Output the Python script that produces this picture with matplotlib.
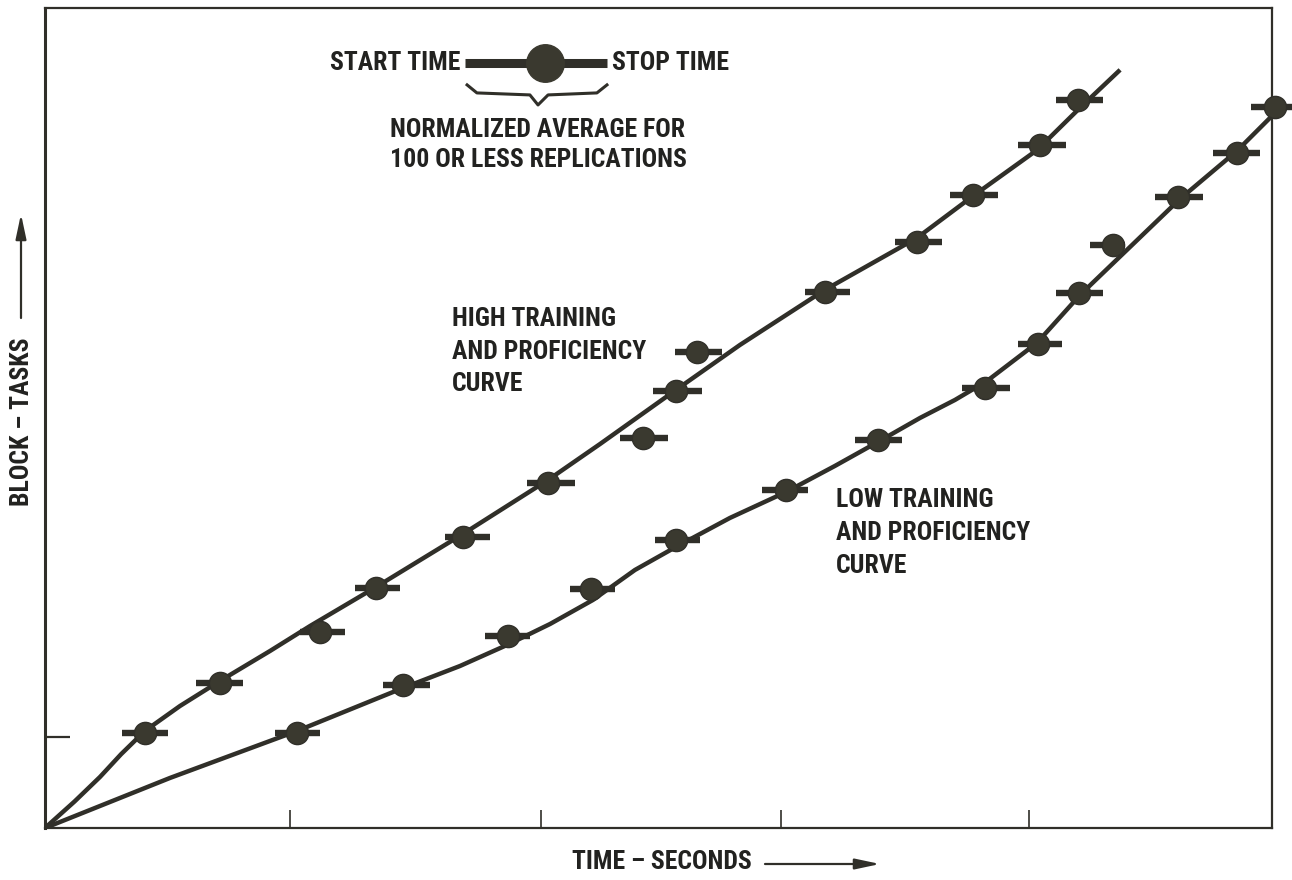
import matplotlib.pyplot as plt
from matplotlib import font_manager

# time axis runs 0-50, block-task axis 0-90 (arbitrary units)
time_ticks = [10, 20.2, 30, 40.1]
task_ticks = [10]

# high training / proficiency: replication centre, start, stop, block-task level
high_mid = [4.07, 7.13, 11.21, 13.49, 17.03, 20.50, 24.37, 25.71, 26.57, 31.78, 35.53, 37.82, 40.55, 42.09]
high_start = [3.14, 6.15, 10.39, 12.63, 16.30, 19.64, 23.43, 24.78, 25.67, 30.97, 34.64, 36.88, 39.65, 41.20]
high_stop = [5.01, 8.07, 12.22, 14.47, 18.13, 21.60, 25.39, 26.77, 27.59, 32.80, 36.55, 38.83, 41.61, 43.11]
high_tasks = [10.43, 15.92, 21.51, 26.34, 31.94, 37.87, 42.81, 47.97, 52.25, 58.84, 64.32, 69.48, 74.97, 79.91]

# fitted curve for the high group
high_curve_t = [0, 1.20, 2.24, 3.10, 4.07, 5.50, 7.13, 9.17, 10.80, 13.49, 17.03, 20.50, 22.62, 25.71, 28.32,
                31.78, 35.53, 37.82, 40.43, 42.17, 43.81]
high_curve_n = [0, 2.90, 5.60, 8.10, 10.65, 13.39, 16.14, 19.43, 22.17, 26.45, 32.27, 38.20, 42.15, 48.08, 53.02,
                59.06, 64.76, 69.37, 74.42, 79.03, 83.21]

# low training / proficiency
low_mid = [10.27, 14.59, 18.87, 22.25, 25.71, 30.20, 33.94, 38.30, 40.46, 42.14, 43.52, 46.17, 48.57, 50.12]
low_start = [9.37, 13.77, 17.93, 21.39, 24.86, 29.22, 33.01, 37.37, 39.65, 41.20, 42.58, 45.23, 47.60, 49.14]
low_stop = [11.21, 15.69, 19.76, 23.23, 26.69, 31.09, 34.92, 39.32, 41.44, 43.11, 44.01, 47.19, 49.51, 50.81]
low_tasks = [10.43, 15.70, 21.08, 26.23, 31.61, 37.10, 42.59, 48.30, 53.13, 58.73, 64.00, 69.26, 74.09, 79.14]

low_curve_t = [0, 5.09, 10.27, 14.59, 16.91, 18.83, 20.58, 22.33, 24.04, 25.71, 27.91, 30.20, 32.19, 33.94,
               35.66, 37.08, 38.39, 40.42, 42.18, 44.09, 46.25, 48.57, 50.0]
low_curve_n = [0, 5.49, 10.65, 15.37, 17.78, 20.09, 22.39, 25.03, 28.32, 30.85, 34.03, 36.88, 39.74, 42.37,
               45.01, 46.98, 49.07, 53.24, 58.51, 63.45, 69.04, 74.31, 78.16]

ink = '#302f29'


def pick_font():
    # prefer a narrow gothic face for the lettering
    entries = font_manager.fontManager.ttflist
    names = {f.name for f in entries}
    for n in ['Liberation Sans Narrow', 'Roboto Condensed', 'Noto Sans Condensed',
              'DejaVu Sans Condensed', 'Open Sans Condensed']:
        if n in names:
            return n, 'normal'
    for fam in ['Noto Sans', 'DejaVu Sans', 'Open Sans', 'Roboto']:
        for f in entries:
            if f.name == fam and 'condensed' in str(f.stretch):
                return fam, 'condensed'
    return 'Roboto', 'normal'


face, stretch = pick_font()
font = [face, 'DejaVu Sans']
plt.rcParams['font.family'] = font

fig = plt.figure(figsize=(12.92, 8.8), dpi=100)
ax = fig.add_axes([45 / 1292, 1 - 828 / 880, 1227 / 1292, 820 / 880])
ax.set_xlim(0, 50)
ax.set_ylim(0, 90)

for s in ax.spines.values():
    s.set_color(ink)
    s.set_linewidth(1.6)
ax.spines['left'].set_linewidth(2.2)

ax.set_xticks(time_ticks)
ax.set_yticks(task_ticks)
ax.tick_params(axis='x', direction='in', length=13, width=1.2, color=ink, labelbottom=False)
ax.tick_params(axis='y', direction='in', length=18, width=1.6, color=ink, labelleft=False)


def draw_group(curve_t, curve_n, mid, start, stop, tasks):
    ax.plot(curve_t, curve_n, color=ink, lw=3.2, solid_capstyle='butt', solid_joinstyle='round', zorder=2)
    ax.hlines(tasks, start, stop, color=ink, lw=4.6, zorder=3, clip_on=False)
    ax.plot(mid, tasks, 'o', ms=16, color='#3a392f', mec=ink, mew=1, zorder=4, clip_on=False)


draw_group(high_curve_t, high_curve_n, high_mid, high_start, high_stop, high_tasks)
draw_group(low_curve_t, low_curve_n, low_mid, low_start, low_stop, low_tasks)

# key: start/stop bar with average point
ax.hlines(83.97, 17.11, 22.90, color=ink, lw=6.5)
ax.plot(20.37, 83.97, 'o', ms=27, color='#3a392f')
ax.plot([17.20, 17.60, 19.76, 20.09, 20.50, 22.49, 22.90],
        [81.56, 80.68, 80.46, 79.36, 80.46, 80.68, 81.56], color=ink, lw=2.2)

txt = dict(color='#222220', fontsize=18.5, fontweight='bold', fontstretch=stretch, family=font)
ax.text(16.91, 83.97, 'START TIME', ha='right', va='center', **txt)
ax.text(23.11, 83.97, 'STOP TIME', ha='left', va='center', **txt)
ax.text(20.09, 76.62, 'NORMALIZED AVERAGE FOR', ha='center', va='center', **txt)
ax.text(20.09, 73.33, '100 OR LESS REPLICATIONS', ha='center', va='center', **txt)

ax.text(16.59, 52.25, 'HIGH TRAINING\nAND PROFICIENCY\nCURVE', ha='left', va='center',
        linespacing=1.45, **txt)
ax.text(32.23, 32.38, 'LOW TRAINING\nAND PROFICIENCY\nCURVE', ha='left', va='center',
        linespacing=1.45, **txt)

# axis titles with direction arrows
fig.text(662 / 1292, 1 - 862 / 880, 'TIME \u2013 SECONDS', ha='center', va='center', **txt)
fig.text(22 / 1292, 1 - 422 / 880, 'BLOCK \u2013 TASKS', ha='center', va='center', rotation=90, **txt)
arrow = dict(arrowstyle='-|>,head_length=0.75,head_width=0.16', mutation_scale=20,
             color=ink, lw=1.6, shrinkA=0, shrinkB=0)
ax.annotate('', xy=(880 / 1292, 16 / 880), xytext=(765 / 1292, 16 / 880),
            xycoords='figure fraction', textcoords='figure fraction', arrowprops=arrow)
ax.annotate('', xy=(21 / 1292, 1 - 214 / 880), xytext=(21 / 1292, 1 - 318 / 880),
            xycoords='figure fraction', textcoords='figure fraction', arrowprops=arrow)

fig.savefig('out.png', dpi=100, facecolor='white')
